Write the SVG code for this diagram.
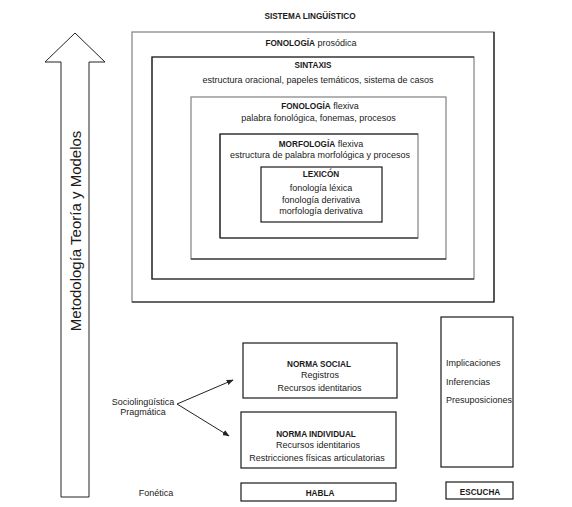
<svg xmlns="http://www.w3.org/2000/svg" width="572" height="507" viewBox="0 0 572 507">
<defs>
<style>
text{font-family:"Liberation Sans",Arial,sans-serif;fill:#1a1a1a;text-anchor:middle;font-size:9px}
.b{font-weight:bold;font-size:8.2px}
.box{fill:none;stroke:#1a1a1a;stroke-width:1.2}
.gbox{fill:none;stroke:#808080;stroke-width:1.2}
.edge{fill:none;stroke:#1a1a1a;stroke-width:1.2}
.l{text-anchor:start}
.conn{stroke:#222;stroke-width:1;fill:none}
</style>
<marker id="ah" viewBox="0 0 10 10" refX="9" refY="5" markerWidth="7" markerHeight="7" orient="auto" markerUnits="userSpaceOnUse">
<path d="M0,1 L10,5 L0,9 Z" fill="#222"/>
</marker>
</defs>
<rect width="572" height="507" fill="#fff"/>

<g id="title">
<text class="b" x="310" y="19">SISTEMA LINGÜÍSTICO</text>
</g>

<g id="fonologia-prosodica">
<rect class="gbox" x="132" y="32" width="362" height="270"/>
<polyline class="edge" points="494,32 494,302 132,302"/>
<text x="311" y="46"><tspan class="b">FONOLOGÍA</tspan> prosódica</text>
</g>

<g id="sintaxis">
<rect class="gbox" x="152" y="57" width="322" height="222"/>
<polyline class="edge" points="474,57 152,57 152,279 474,279"/>
<text class="b" x="313" y="68">SINTAXIS</text>
<text x="318" y="83">estructura oracional, papeles temáticos, sistema de casos</text>
</g>

<g id="fonologia-flexiva">
<rect class="gbox" x="191" y="97" width="255" height="162"/>
<polyline class="edge" points="191,259 446,259"/>
<text x="320" y="109"><tspan class="b">FONOLOGÍA</tspan> flexiva</text>
<text x="318.5" y="121">palabra fonológica, fonemas, procesos</text>
</g>

<g id="morfologia-flexiva">
<rect class="gbox" x="220" y="134" width="198" height="104"/>
<polyline class="edge" points="220,238 220,134 418,134"/>
<polyline class="edge" points="220,238 418,238"/>
<text x="321" y="147"><tspan class="b">MORFOLOGÍA</tspan> flexiva</text>
<text x="320" y="158">estructura de palabra morfológica y procesos</text>
</g>

<g id="lexicon">
<rect class="box" x="261" y="167" width="121" height="55"/>
<text class="b" x="321" y="177">LEXICÓN</text>
<text x="321" y="191">fonología léxica</text>
<text x="321" y="203">fonología derivativa</text>
<text x="321" y="214">morfología derivativa</text>
</g>

<g id="metodologia">
<polygon points="75,33 105,62 89,62 89,497 61,497 61,62 45,62" fill="#fff" stroke="#222" stroke-width="1"/>
<text transform="translate(81,231) rotate(-90)" style="font-size:15px">Metodología Teoría y Modelos</text>
</g>

<g id="sociolinguistica">
<text x="143" y="405">Sociolingüística</text>
<text x="143" y="415">Pragmática</text>
</g>

<g id="norma-social">
<rect class="box" x="243" y="343" width="154" height="55"/>
<text class="b" x="319" y="367">NORMA SOCIAL</text>
<text x="320" y="378">Registros</text>
<text x="319.5" y="391">Recursos identitarios</text>
</g>

<g id="norma-individual">
<rect class="box" x="241" y="412" width="155" height="56"/>
<text class="b" x="316" y="437">NORMA INDIVIDUAL</text>
<text x="318" y="448">Recursos identitarios</text>
<text x="317" y="461">Restricciones físicas articulatorias</text>
</g>

<g id="fonetica">
<text x="156" y="496">Fonética</text>
</g>

<g id="habla">
<rect class="box" x="241" y="483" width="155" height="18"/>
<text class="b" x="320" y="496">HABLA</text>
</g>

<g id="pragmatica-box">
<rect class="box" x="441" y="317" width="72" height="150"/>
<text class="l" x="446" y="366">Implicaciones</text>
<text class="l" x="446" y="385">Inferencias</text>
<text class="l" x="446" y="403">Presuposiciones</text>
</g>

<g id="escucha">
<rect class="box" x="446" y="482" width="67" height="17"/>
<text class="b" x="480" y="495">ESCUCHA</text>
</g>

<g id="connectors">
<line class="conn" x1="177" y1="404" x2="233" y2="380" marker-end="url(#ah)"/>
<line class="conn" x1="177" y1="404" x2="229" y2="436" marker-end="url(#ah)"/>
</g>
</svg>
